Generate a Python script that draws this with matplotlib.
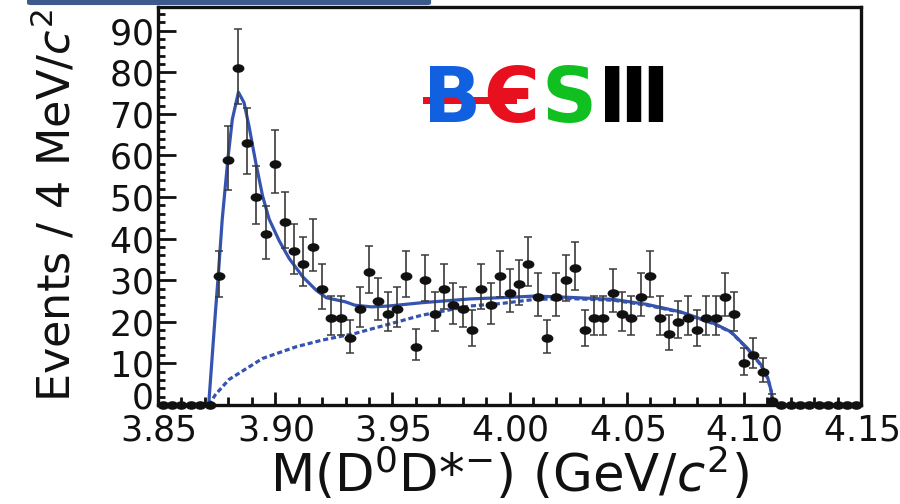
import numpy as np
import matplotlib
matplotlib.use("Agg")
import matplotlib.pyplot as plt
from matplotlib.path import Path
from matplotlib.transforms import Affine2D, IdentityTransform, ScaledTranslation
from matplotlib.patches import FancyBboxPatch, Rectangle
from matplotlib.ticker import MultipleLocator, FuncFormatter

# histogram: 4 MeV bins from 3.85 to 4.15 GeV
hist_lo = 3.85
bin_width = 0.004
counts = [0, 0, 0, 0, 0, 0,
          31, 59, 81, 63, 50, 41, 58, 44, 37, 34, 38, 28,
          21, 21, 16, 23, 32, 25, 22, 23, 31, 14, 30, 22,
          28, 24, 23, 18, 28, 24, 31, 27, 29, 34, 26, 16,
          26, 30, 33, 18, 21, 21, 27, 22, 21, 26, 31, 21,
          17, 20, 21, 18, 21, 21, 26, 22, 10, 12, 8, 1,
          0, 0, 0, 0, 0, 0, 0, 0, 0]

# total fit (solid)
fit_m = [3.8716, 3.8745, 3.8757, 3.8774, 3.8798, 3.8817, 3.8843, 3.8867,
         3.8888, 3.8917, 3.8946, 3.8974, 3.9017, 3.9060, 3.9118, 3.9175,
         3.9218, 3.9300, 3.9340, 3.9411, 3.9483, 3.9626, 3.9830, 4.0000,
         4.0107, 4.0250, 4.0443, 4.0586, 4.0730, 4.0873, 4.0945, 4.1016,
         4.1074, 4.1102, 4.1117, 4.1124]
fit_y = [0.0, 22.4, 31.2, 44.7, 59.1, 68.7, 75.2, 72.7,
         67.1, 58.3, 50.3, 44.7, 39.5, 35.2, 30.8, 27.6,
         25.8, 24.8, 24.0, 23.6, 23.8, 24.6, 25.5, 25.9,
         26.2, 25.9, 25.4, 24.2, 22.4, 19.6, 17.6, 13.6,
         9.6, 6.5, 3.3, 0.3]

# background (dashed)
bkg_m = [3.8716, 3.8745, 3.8802, 3.8946, 3.9089, 3.9200, 3.9340, 3.9483,
         3.9626, 3.9830, 3.9963, 4.0107, 4.0250, 4.0443, 4.0586, 4.0730,
         4.0873, 4.0945, 4.1016, 4.1074, 4.1102, 4.1117, 4.1124]
bkg_y = [0.0, 2.5, 6.1, 11.2, 14.0, 15.6, 17.2, 19.4,
         21.6, 23.8, 24.4, 25.4, 25.6, 25.2, 24.0, 22.3,
         19.5, 17.5, 13.5, 9.5, 6.4, 3.2, 0.3]

x_ticks = [3.85, 3.90, 3.95, 4.00, 4.05, 4.10, 4.15]

line_col = '#3553b0'
ink = '#111111'

n = np.array(counts, dtype=float)
centers = hist_lo + bin_width * (np.arange(len(n)) + 0.5)
root = np.sqrt(n + 0.25)
err_lo = np.where(n > 0, root - 0.5, 0)
err_hi = np.where(n > 0, root + 0.5, 0)

plt.rcParams['font.family'] = ['DejaVu Sans']
plt.rcParams['mathtext.fontset'] = 'dejavusans'

fig = plt.figure(figsize=(9, 5.04), dpi=100)
ax = fig.add_axes([0.1756, 0.1964, 0.7811, 0.7897])

# top banner remnant
fig.patches.append(FancyBboxPatch((0.030, 0.990), 0.449, 0.02,
                                  boxstyle='round,pad=0,rounding_size=0.004',
                                  transform=fig.transFigure, fc='#3c5a8c', ec='none'))

ax.plot(bkg_m, bkg_y, color=line_col, lw=2.3, ls=(0, (1.6, 0.9)), zorder=2)
ax.plot(fit_m, fit_y, color=line_col, lw=2.3, zorder=3)

ax.errorbar(centers, n, yerr=[err_lo, err_hi], fmt='none', ecolor='#3a3a3a',
            elinewidth=1.2, capsize=3, capthick=1.1, zorder=4)
oval = Path.unit_circle().transformed(Affine2D().scale(1.45, 1.0))
ax.plot(centers, n, ls='none', marker=oval, ms=7.5, color=ink,
        zorder=5, clip_on=False)

ax.set_xlim(3.85, 4.15)
ax.set_ylim(0, 95.7)
ax.set_xticks(x_ticks)
ax.xaxis.set_minor_locator(MultipleLocator(0.01))
ax.yaxis.set_major_locator(MultipleLocator(10))
ax.yaxis.set_minor_locator(MultipleLocator(2))
# mathregular labels keep tight boxes; the "0" is placed by hand a little higher
ax.xaxis.set_major_formatter(FuncFormatter(lambda v, p: f'$\\mathregular{{{v:.2f}}}$'))
ax.yaxis.set_major_formatter(FuncFormatter(
    lambda v, p: '' if abs(v) < 1e-9 else f'$\\mathregular{{{v:.0f}}}$'))

ax.tick_params(axis='both', which='both', direction='in', top=False, right=False,
               width=2.0, labelsize=25, colors=ink)
ax.tick_params(axis='y', which='major', length=13, pad=4)
ax.tick_params(axis='y', which='minor', length=5)
ax.tick_params(axis='x', which='major', length=9.5, pad=6)
ax.tick_params(axis='x', which='minor', length=6)
for s in ax.spines.values():
    s.set_linewidth(2.4)
    s.set_color(ink)

ax.text(0, 0, '$\\mathregular{0}$', fontsize=25, color=ink, ha='right', va='center',
        transform=ax.transAxes + ScaledTranslation(-4 / 72, 5 / 72, fig.dpi_scale_trans))

ax.set_xlabel('M(D$^{0}$D*$^{-}$) (GeV/$c^{2}$)', fontsize=37, color=ink)
ax.set_ylabel('Events / 4 MeV/$c^{2}$', fontsize=32, color=ink)
ax.xaxis.set_label_coords(0.5, -0.10)
ax.yaxis.set_label_coords(-0.112, 0.5)

# BESIII logo, letters laid side by side in pixels
fig.canvas.draw()
renderer = fig.canvas.get_renderer()
logo = [('B', '#1060e0'), ('\u0404', '#e8101e'), ('S', '#10c020'), ('\u2162', '#000000')]
x_px = 423
y_px = 504 - 101
for ch, col in logo:
    t = fig.text(x_px, y_px, ch, transform=IdentityTransform(), color=col,
                 fontsize=55, fontweight='bold', ha='left', va='center', zorder=6)
    x_px = t.get_window_extent(renderer).x1 + 2
ax.add_patch(Rectangle((0.377, 0.757), 0.134, 0.017, transform=ax.transAxes,
                       fc='#e8101e', ec='none', zorder=7))

fig.savefig('out.png', dpi=100)
